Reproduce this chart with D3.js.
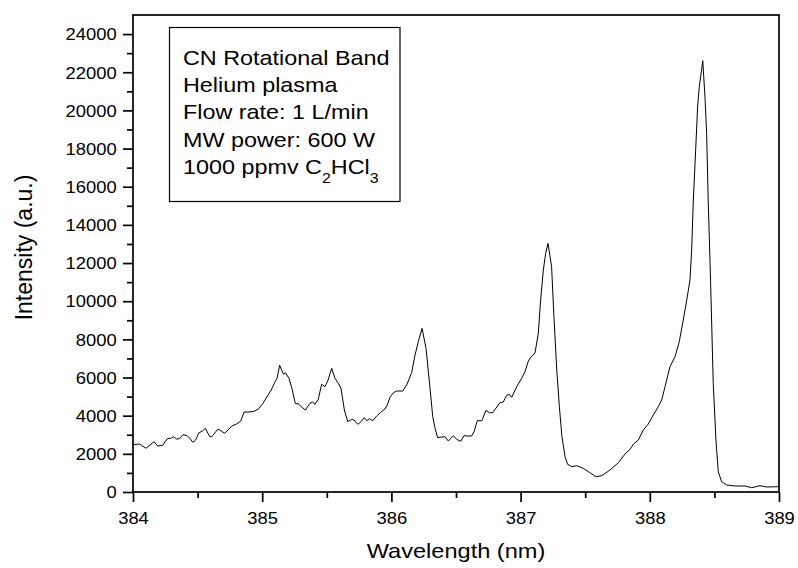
<!DOCTYPE html>
<html>
<head>
<meta charset="utf-8">
<script src="https://cdn.jsdelivr.net/npm/d3@7"></script>
<style>
    body { margin: 0; background: #fff; }
    text { font-family: "Liberation Sans", Arial, sans-serif; fill: #000; }
</style>
</head>
<body>
<div id="chart"></div>
<script>
'use strict';

// Spectrum
const wavelengths = [
    384.00, 384.05, 384.10, 384.163, 384.19, 384.23, 384.265, 384.29, 384.315, 384.335,
    384.36, 384.387, 384.42, 384.44, 384.464, 384.485, 384.51, 384.535, 384.56, 384.594,
    384.61, 384.658, 384.68, 384.71, 384.735, 384.766, 384.80, 384.833, 384.86, 384.89,
    384.937, 384.973, 385.006, 385.045, 385.07, 385.097, 385.115, 385.135, 385.153, 385.166,
    385.18, 385.207, 385.23, 385.256, 385.28, 385.31, 385.334, 385.355, 385.37, 385.39,
    385.409, 385.434, 385.46, 385.486, 385.51, 385.538, 385.563, 385.589, 385.61, 385.636,
    385.662, 385.693, 385.71, 385.74, 385.765, 385.79, 385.81, 385.83, 385.855, 385.886,
    385.917, 385.95, 385.968, 385.989, 386.015, 386.04, 386.087, 386.118, 386.157, 386.18,
    386.208, 386.237, 386.268, 386.299, 386.32, 386.338, 386.358, 386.39, 386.415, 386.44,
    386.48, 386.505, 386.536, 386.562, 386.595, 386.62, 386.64, 386.665, 386.70, 386.732,
    386.758, 386.784, 386.84, 386.866, 386.892, 386.913, 386.931, 386.97, 387.008, 387.034,
    387.06, 387.086, 387.111, 387.137, 387.155, 387.176, 387.194, 387.212, 387.24, 387.258,
    387.28, 387.30, 387.32, 387.344, 387.364, 387.395, 387.434, 387.485, 387.532, 387.584,
    387.628, 387.692, 387.757, 387.808, 387.847, 387.872, 387.911, 387.95, 387.988, 388.027,
    388.066, 388.092, 388.118, 388.156, 388.195, 388.228, 388.259, 388.286, 388.311, 388.324,
    388.337, 388.355, 388.37, 388.383, 388.41, 388.427, 388.44, 388.452, 388.471, 388.491,
    388.512, 388.53, 388.556, 388.595, 388.66, 388.737, 388.789, 388.853, 388.905, 388.996
];
const intensities = [
    2480, 2515, 2290, 2636, 2410, 2446, 2793, 2810, 2898, 2777,
    2793, 3003, 2950, 2810, 2604, 2725, 3107, 3180, 3338, 2898,
    2898, 3301, 3212, 3076, 3249, 3458, 3563, 3705, 4192, 4192,
    4229, 4365, 4648, 5083, 5345, 5749, 5958, 6640, 6340, 6167,
    6251, 5958, 5434, 4648, 4611, 4430, 4297, 4506, 4648, 4716,
    4595, 4857, 5643, 5518, 5869, 6482, 5958, 5696, 5434, 4297,
    3684, 3809, 3773, 3548, 3684, 3893, 3736, 3841, 3736, 3982,
    4176, 4349, 4559, 4962, 5203, 5292, 5292, 5607, 6251, 7090,
    7876, 8578, 7530, 5434, 3946, 3338, 2845, 2882, 2898, 2672,
    2950, 2761, 2657, 2950, 2934, 2934, 3160, 3736, 3736, 4281,
    4155, 4155, 4679, 4716, 5067, 5119, 4962, 5518, 5958, 6304,
    6864, 7126, 7268, 8316, 10061, 11633, 12508, 13032, 11806, 9186,
    6393, 4470, 2898, 1850, 1451, 1326, 1378, 1242, 1032, 802,
    854, 1153, 1535, 1991, 2237, 2499, 2725, 3249, 3563, 4035,
    4470, 4821, 5518, 6566, 7090, 7876, 9013, 10061, 11109, 12681,
    15301, 17921, 20191, 21239, 22601, 20714, 18797, 15301, 10935, 5696,
    2725, 1064, 540, 367, 314, 314, 225, 330, 262, 278
];

// Ticks
const xMajorTicks = [384, 385, 386, 387, 388, 389];
const xMinorTicks = [384.5, 385.5, 386.5, 387.5, 388.5];
const yMajorTicks = [0, 2000, 4000, 6000, 8000, 10000, 12000, 14000, 16000, 18000, 20000, 22000, 24000];
const yMinorTicks = [1000, 3000, 5000, 7000, 9000, 11000, 13000, 15000, 17000, 19000, 21000, 23000];

// Labels
const xTitle = 'Wavelength (nm)';
const yTitle = 'Intensity (a.u.)';
const legendLines = [
    'CN Rotational Band',
    'Helium plasma',
    'Flow rate: 1 L/min',
    'MW power: 600 W',
    '1000 ppmv C_2HCl_3'
];

class SpectrumChart {

    constructor(_ref) {
        this.parent = _ref;
        this.data = wavelengths.map((w, i) => ({w: w, v: intensities[i]}));

        this.initVis();
    }

    initVis() {
        const vis = this;

        // Config
        vis.w = 798;
        vis.h = 568;
        vis.stretch = 1.15;
        vis.margin = {top: 15, right: 19, bottom: 76, left: 133};
        vis.gW = vis.w - (vis.margin.left + vis.margin.right);
        vis.gH = vis.h - (vis.margin.top + vis.margin.bottom);

        vis.svg = d3.select(`#${vis.parent}`)
            .append('svg')
            .attr('width', vis.w)
            .attr('height', vis.h);

        vis.g = vis.svg.append('g')
            .attr('transform', `translate(${vis.margin.left},${vis.margin.top})`);

        // Scales
        vis.xScale = d3.scaleLinear()
            .domain([384, 389])
            .range([0, vis.gW]);
        vis.yScale = d3.scaleLinear()
            .domain([0, 25000])
            .range([vis.gH, 0]);

        vis.lineMaker = d3.line()
            .x(d => vis.xScale(d.w))
            .y(d => vis.yScale(d.v));

        vis.updateVis();
    }

    updateVis() {
        const vis = this;

        // Curve
        vis.g.append('path')
            .datum(vis.data)
            .attr('fill', 'none')
            .attr('stroke', '#000')
            .attr('stroke-width', 1)
            .attr('stroke-linejoin', 'round')
            .attr('d', vis.lineMaker);

        // Frame
        vis.g.append('rect')
            .attr('width', vis.gW)
            .attr('height', vis.gH)
            .attr('fill', 'none')
            .attr('stroke', '#000')
            .attr('stroke-width', 1.7);

        // x axis
        const xMajor = vis.g.append('g')
            .attr('transform', `translate(0,${vis.gH})`)
            .call(d3.axisBottom(vis.xScale)
                .tickValues(xMajorTicks)
                .tickFormat(d3.format('d'))
                .tickSize(10)
                .tickSizeOuter(0));
        const xMinor = vis.g.append('g')
            .attr('transform', `translate(0,${vis.gH})`)
            .call(d3.axisBottom(vis.xScale)
                .tickValues(xMinorTicks)
                .tickFormat('')
                .tickSize(6)
                .tickSizeOuter(0));

        // y axis
        const yMajor = vis.g.append('g')
            .call(d3.axisLeft(vis.yScale)
                .tickValues(yMajorTicks)
                .tickFormat(d3.format('d'))
                .tickSize(10)
                .tickSizeOuter(0));
        const yMinor = vis.g.append('g')
            .call(d3.axisLeft(vis.yScale)
                .tickValues(yMinorTicks)
                .tickFormat('')
                .tickSize(6)
                .tickSizeOuter(0));

        [xMajor, xMinor, yMajor, yMinor].forEach(a => {
            a.select('.domain').remove();
            a.selectAll('line').attr('stroke', '#000').attr('stroke-width', 1.7);
        });

        xMajor.selectAll('text')
            .attr('font-size', 16)
            .attr('font-family', null)
            .attr('y', 32)
            .attr('dy', 0)
            .attr('transform', `scale(${vis.stretch},1)`);

        yMajor.selectAll('text')
            .attr('font-size', 16)
            .attr('font-family', null)
            .attr('x', -16.3 / vis.stretch)
            .attr('dy', '0.36em')
            .attr('transform', `scale(${vis.stretch},1)`);

        // Axis titles
        vis.svg.append('text')
            .attr('transform', `translate(${vis.margin.left + vis.gW / 2},558) scale(${vis.stretch},1)`)
            .attr('text-anchor', 'middle')
            .attr('font-size', 20.5)
            .text(xTitle);

        vis.svg.append('text')
            .attr('transform', `translate(32,${vis.margin.top + vis.gH / 2 - 6}) rotate(-90)`)
            .attr('text-anchor', 'middle')
            .attr('font-size', 23)
            .text(yTitle);

        // Legend box
        vis.legendG = vis.svg.append('g')
            .attr('transform', 'translate(169.5,27.5)');
        vis.legendG.append('rect')
            .attr('width', 230.5)
            .attr('height', 174)
            .attr('fill', '#fff')
            .attr('stroke', '#000')
            .attr('stroke-width', 1.2);

        legendLines.forEach((line, i) => {
            const t = vis.legendG.append('text')
                .attr('transform', `translate(13.5,${37 + i * 27.4}) scale(${vis.stretch - 0.01},1)`)
                .attr('font-size', 20.5);
            // "_n" marks a subscript digit, the next piece goes back up
            let shift = 0;
            line.split(/(_\d)/).filter(s => s.length).forEach(s => {
                if (s[0] === '_') {
                    t.append('tspan')
                        .attr('font-size', 14)
                        .attr('dy', 9 - shift)
                        .text(s.slice(1));
                    shift = 9;
                } else {
                    t.append('tspan')
                        .attr('dy', -shift)
                        .text(s);
                    shift = 0;
                }
            });
        });
    }
}

new SpectrumChart('chart');
</script>
</body>
</html>
